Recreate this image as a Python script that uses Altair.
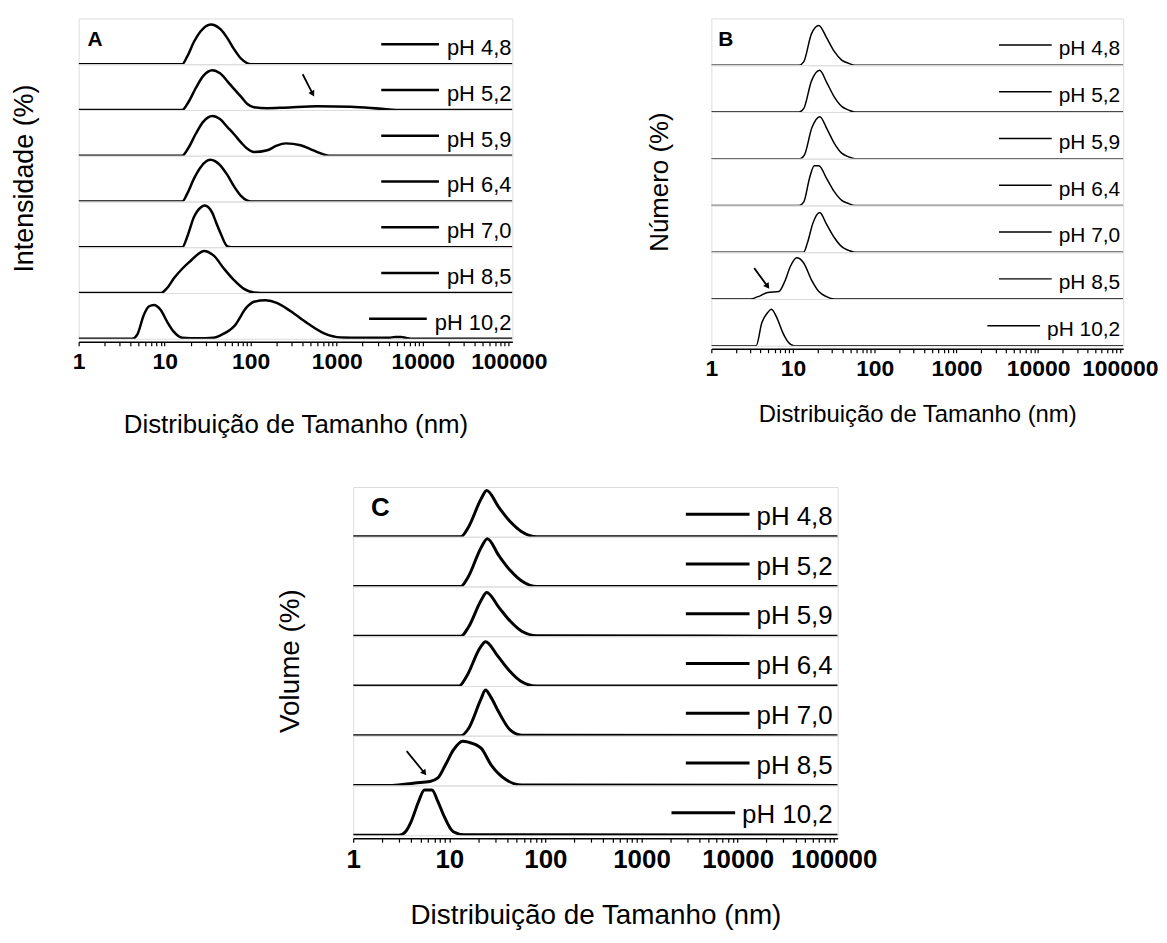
import altair as alt
import pandas as pd

FONT = "Liberation Sans"
LABELS = ["pH 4,8", "pH 5,2", "pH 5,9", "pH 6,4", "pH 7,0", "pH 8,5", "pH 10,2"]
DOMAIN = [1, 110000]
MAJOR = [1, 10, 100, 1000, 10000, 100000]
MINOR = [m * d for d in [1, 10, 100, 1000, 10000] for m in range(2, 10)]

# ---------------- Panel A : Intensidade ----------------
A48_x = [1, 16, 18.3, 21.9, 26.2, 34.3, 44.8, 53.5, 64, 76.5, 91.5, 100, 110000]
A48_y = [0, 0, 17, 49, 72, 87, 76, 57, 33, 13, 2, 0, 0]
A52_x = [1, 16, 19, 23, 28, 35.8, 44, 54, 64, 78, 91.5, 109, 156, 244, 596, 1455, 3550, 5550, 110000]
A52_y = [0, 0, 18, 48, 74, 87, 80, 62, 46, 28, 13, 6, 4, 5, 8, 7, 2, 0, 0]
A59_x = [1, 16, 19, 23, 28, 35.8, 44, 54, 64, 78, 91.5, 109, 156, 200, 255, 381, 500, 596, 700, 820, 110000]
A59_y = [0, 0, 18, 48, 74, 87, 80, 62, 47, 28, 15, 8, 12, 22, 27, 23, 14, 8, 3, 0, 0]
A64_x = [1, 16, 18.3, 21.9, 26.2, 33.7, 44.8, 53.5, 64, 76.5, 91.5, 100, 110000]
A64_y = [0, 0, 17, 50, 75, 91, 78, 58, 33, 13, 2, 0, 0]
A70_x = [1, 16, 18.3, 21.9, 26.2, 29.2, 35.8, 40, 44.8, 53.5, 60, 110000]
A70_y = [0, 0, 23, 66, 87, 91, 75, 52, 30, 2, 0, 0]
A85_x = [1, 9, 10.7, 12.8, 16, 20, 26.2, 28.6, 37.5, 49, 64, 83.6, 109, 131, 110000]
A85_y = [0, 0, 11, 32, 53, 70, 89, 92, 81, 53, 28, 9, 1, 0, 0]
A102_x = [1, 4.2, 4.8, 5.75, 6.6, 7.5, 9.0, 10.7, 12.8, 16, 20, 30, 37, 45, 64, 91, 109, 149,
          204, 292, 456, 713, 1113, 2000, 4000, 4800, 5600, 6400, 7500, 110000]
A102_y = [0, 0, 9, 53, 71, 74, 63, 37, 15, 2, 1, 1, 2, 8, 27, 70, 81, 84,
          78, 60, 34, 12, 3, 2, 2, 4, 4, 2, 0, 0]

# ---------------- Panel B : Numero ----------------
B48_x = [1, 11.9, 13.5, 16.8, 20.7, 25.7, 31.8, 39.4, 48, 57, 110000]
B48_y = [0, 0, 7, 67, 85, 59, 30, 11, 4, 0, 0]
B52_x = [1, 11.9, 13.5, 16.8, 21.2, 25.7, 31.8, 39.4, 48, 57, 110000]
B52_y = [0, 0, 7, 66, 89, 64, 33, 12, 4, 0, 0]
B59_x = [1, 12.2, 13.8, 17, 21.3, 26, 32, 39.4, 48, 57, 110000]
B59_y = [0, 0, 8, 66, 90, 64, 33, 12, 4, 0, 0]
B64_x = [1, 11.9, 13.5, 16, 18.2, 20.7, 25.7, 31.8, 39.4, 48, 57, 110000]
B64_y = [0, 0, 7, 60, 85, 85, 58, 30, 11, 4, 0, 0]
B70_x = [1, 13.5, 15, 17.5, 21.2, 25.7, 31.8, 39.4, 48, 57, 110000]
B70_y = [0, 0, 20, 62, 85, 60, 32, 12, 4, 0, 0]
B85_x = [1, 3.0, 3.73, 4.9, 6.7, 7.9, 9.3, 11.1, 13.5, 16.8, 20.7, 25.7, 31.8, 110000]
B85_y = [0, 0, 5, 14, 16, 37, 70, 88, 77, 41, 16, 5, 0, 0]
B102_x = [1, 3.54, 4.15, 4.9, 5.43, 6.37, 7.49, 8.8, 10.3, 110000]
B102_y = [0, 0, 49, 71, 78, 59, 28, 7, 0, 0]

# ---------------- Panel C : Volume ----------------
C48_x = [1, 13.2, 15.8, 21.4, 24.5, 32.8, 43.2, 56.7, 81.6, 110000]
C48_y = [0, 0, 19, 76, 93, 59, 30, 10, 0, 0]
C52_x = [1, 13.2, 15.8, 21.4, 24.9, 32.8, 43.2, 56.7, 81.6, 110000]
C52_y = [0, 0, 20, 78, 96, 62, 32, 11, 0, 0]
C59_x = [1, 13.2, 15.8, 21.4, 24.5, 32.8, 43.2, 56.7, 81.6, 110000]
C59_y = [0, 0, 18, 72, 88, 58, 30, 10, 1, 0]
C64_x = [1, 12.6, 15.2, 20.8, 23.8, 32, 42, 55, 80, 110000]
C64_y = [0, 0, 20, 76, 89, 60, 31, 10, 0, 0]
C70_x = [1, 13.2, 15.8, 21.4, 23.8, 27, 32.8, 43.2, 56.7, 110000]
C70_y = [0, 0, 14, 74, 92, 78, 47, 11, 1, 0]
C85_x = [1, 2.54, 4.4, 6.3, 7.6, 9.1, 11, 13.8, 15.8, 21.4, 27.3, 39.4, 56.7, 110000]
C85_y = [0, 0, 5, 8, 15, 41, 71, 89, 87, 75, 41, 11, 1, 0]
C102_x = [1, 3.0, 3.5, 4.0, 4.8, 5.5, 6.6, 7.6, 8.7, 11, 14.4, 110000]
C102_y = [0, 0, 7, 27, 68, 91, 91, 68, 41, 7, 1, 0]

# arrows: (row index, [x_start, x_end, y_start, y_end]) in data units
A_ARROW = (1, [402, 526, 78, 35])
B_ARROW = (5, [3.35, 4.88, 66, 27])
C_ARROW = (5, [3.60, 5.52, 69, 25])

SOURCE = "Fonte: Autor"

A_SERIES = [(A48_x, A48_y), (A52_x, A52_y), (A59_x, A59_y), (A64_x, A64_y),
            (A70_x, A70_y), (A85_x, A85_y), (A102_x, A102_y)]
B_SERIES = [(B48_x, B48_y), (B52_x, B52_y), (B59_x, B59_y), (B64_x, B64_y),
            (B70_x, B70_y), (B85_x, B85_y), (B102_x, B102_y)]
C_SERIES = [(C48_x, C48_y), (C52_x, C52_y), (C59_x, C59_y), (C64_x, C64_y),
            (C70_x, C70_y), (C85_x, C85_y), (C102_x, C102_y)]

CHAR_W = {"p": 0.556, "H": 0.722, " ": 0.278, ",": 0.278}


def text_width(s, fs):
    return sum(CHAR_W.get(c, 0.556) for c in s) * fs


def make_panel(series, cfg, arrow):
    W, H = cfg["W"], cfg["H"]
    rows = []
    n = len(series)
    for i, ((xs, ys), label) in enumerate(zip(series, LABELS)):
        bottom = i == n - 1
        df = pd.DataFrame({"x": xs, "y": ys})
        if bottom:
            x_axis = alt.Axis(
                values=MAJOR + MINOR,
                labelExpr="indexof([1,10,100,1000,10000,100000], datum.value) >= 0 ? datum.value + '' : ''",
                labelFlush=False, labelOverlap=False, labelFont=FONT,
                labelFontSize=cfg["fs_tick"], labelFontWeight="bold", labelColor="black",
                labelPadding=cfg["label_pad"], tickSize=4, tickColor="black", tickWidth=1.2,
                domainColor="black", domainWidth=1.5, offset=3, grid=False,
                title=cfg["xtitle"], titleFont=FONT, titleFontSize=cfg["fs_xt"],
                titleFontWeight="normal", titleColor="black", titlePadding=cfg["title_pad"])
        else:
            x_axis = None
        xs_scale = alt.Scale(type="log", domain=DOMAIN, nice=False)
        line = alt.Chart(df).mark_line(
            color="black", strokeWidth=cfg["lw"], interpolate="monotone", clip=True
        ).encode(
            x=alt.X("x:Q", scale=xs_scale, axis=x_axis),
            y=alt.Y("y:Q", scale=alt.Scale(domain=[0, 100]), axis=None),
        )
        lab = pd.DataFrame({"label": [label]})
        tx = W - cfg["pad"]
        rx2 = tx - text_width(label, cfg["fs_leg"]) - cfg["gap"]
        rule = alt.Chart(lab).mark_rule(color="black", strokeWidth=cfg["lw"]).encode(
            x=alt.value(rx2 - cfg["rule_len"]), x2=alt.value(rx2),
            y=alt.value(H * cfg["rule_y"]),
        )
        text = alt.Chart(lab).mark_text(
            align="right", baseline="alphabetic", font=FONT,
            fontSize=cfg["fs_leg"], color="black"
        ).encode(x=alt.value(tx), y=alt.value(H * cfg["text_y"]), text="label:N")
        layers = [line, rule, text]
        if i == 0:
            let = pd.DataFrame({"t": [cfg["letter"]]})
            layers.append(alt.Chart(let).mark_text(
                align="left", baseline="alphabetic", font=FONT, fontWeight="bold",
                fontSize=cfg["fs_letter"], color="black"
            ).encode(x=alt.value(cfg["letter_x"]), y=alt.value(cfg["letter_y"]), text="t:N"))
        if i == 3:
            # y-axis title, centred on the whole stack of panels
            yt = pd.DataFrame({"t": [cfg["ytitle"]]})
            layers.append(alt.Chart(yt).mark_text(
                align="center", baseline="middle", angle=270, font=FONT,
                fontSize=cfg["fs_yt"], color="black"
            ).encode(x=alt.value(cfg["yt_x"]), y=alt.value(H / 2), text="t:N"))
        if i == arrow[0]:
            a = arrow[1]
            adf = pd.DataFrame({"x": [a[0]], "x2": [a[1]], "y": [a[2]], "y2": [a[3]]})
            layers.append(alt.Chart(adf).mark_rule(color="black", strokeWidth=1.8).encode(
                x="x:Q", x2="x2:Q", y="y:Q", y2="y2:Q"))
            layers.append(alt.Chart(adf).mark_point(
                shape="triangle-down", filled=True, color="black", size=45,
                opacity=1, angle=cfg["arrow_angle"]
            ).encode(x="x2:Q", y="y2:Q"))
        rows.append(alt.layer(*layers).properties(width=W, height=H))
    return alt.vconcat(*rows, spacing=0, bounds="flush")


CFG_A = dict(W=436, H=46, lw=2.5, fs_tick=23, fs_xt=26, fs_yt=27, fs_leg=22, pad=1, gap=8,
             rule_len=58, rule_y=0.565, text_y=0.80, letter="A", fs_letter=21,
             letter_x=9, letter_y=28, label_pad=5, title_pad=38, yt_x=-53.5,
             xtitle="Distribuição de Tamanho (nm)", ytitle="Intensidade (%)", arrow_angle=331)
CFG_B = dict(W=414, H=47, lw=1.5, fs_tick=23, fs_xt=24, fs_yt=26, fs_leg=21, pad=3, gap=7,
             rule_len=53, rule_y=0.57, text_y=0.79, letter="B", fs_letter=21,
             letter_x=7, letter_y=28, label_pad=5, title_pad=22, yt_x=-52,
             xtitle="Distribuição de Tamanho (nm)", ytitle="Número (%)", arrow_angle=324)
CFG_C = dict(W=487, H=50, lw=3, fs_tick=26, fs_xt=28, fs_yt=28, fs_leg=26, pad=5, gap=7,
             rule_len=64, rule_y=0.55, text_y=0.76, letter="C", fs_letter=26,
             letter_x=18, letter_y=29, label_pad=4, title_pad=30, yt_x=-62,
             xtitle="Distribuição de Tamanho (nm)", ytitle="Volume (%)", arrow_angle=321)

panel_a = make_panel(A_SERIES, CFG_A, A_ARROW)
panel_b = make_panel(B_SERIES, CFG_B, B_ARROW)
panel_c = make_panel(C_SERIES, CFG_C, C_ARROW)

spacer = alt.Chart(pd.DataFrame({"t": [""]})).mark_text(
    align="left", baseline="top", font=FONT, fontSize=10, color="black"
).encode(x=alt.value(0), y=alt.value(0), text="t:N").properties(
    width=199, height=20, view=alt.ViewBackground(strokeWidth=0, strokeOpacity=0))

top_row = alt.hconcat(panel_a, panel_b, spacing=98)
bottom_row = alt.hconcat(spacer, panel_c, spacing=0)

chart = alt.vconcat(top_row, bottom_row, spacing=48).properties(
    padding={"left": 3, "top": 7, "right": 0, "bottom": 0},
    title=alt.TitleParams(text=SOURCE, orient="bottom", anchor="start", font=FONT,
                          fontSize=22, fontWeight="bold", color="black", dx=31, offset=12),
).configure_view(stroke="black", strokeWidth=1.5).configure(background="white")

chart.save("out.html", embed_options={"renderer": "svg", "actions": False})
